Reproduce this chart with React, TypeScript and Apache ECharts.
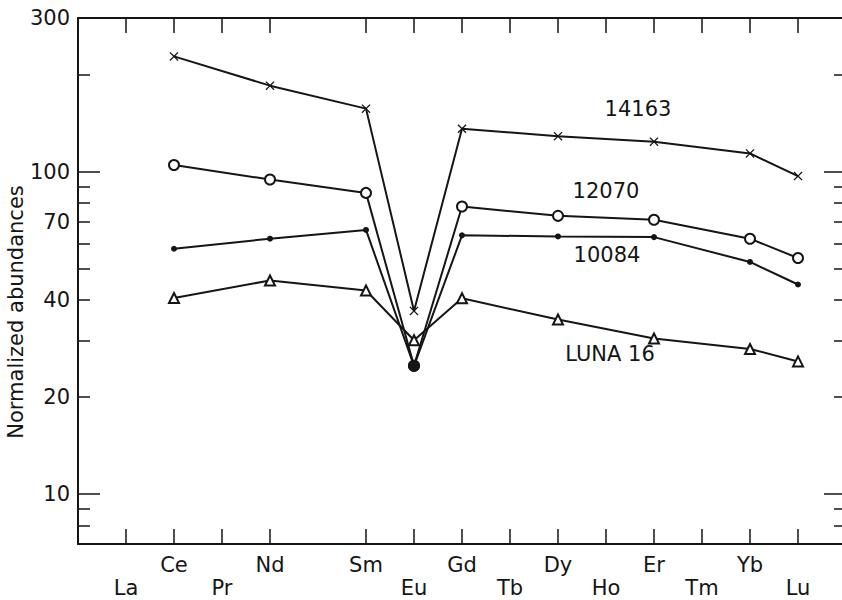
import React, { useEffect, useRef } from 'react';
import * as echarts from 'echarts';

// Rare earth elements in atomic order (Pm keeps its slot but has no tick or label)
const elements = ['La', 'Ce', 'Pr', 'Nd', 'Pm', 'Sm', 'Eu', 'Gd', 'Tb', 'Dy', 'Ho', 'Er', 'Tm', 'Yb', 'Lu'];
const upperLabels = ['Ce', 'Nd', 'Sm', 'Gd', 'Dy', 'Er', 'Yb'];
const lowerLabels = ['La', 'Pr', 'Eu', 'Tb', 'Ho', 'Tm', 'Lu'];
const measured = ['Ce', 'Nd', 'Sm', 'Eu', 'Gd', 'Dy', 'Er', 'Yb', 'Lu'];

const s14163 = [228, 185, 157, 37, 136, 129, 124, 114, 97];
const s12070 = [105, 94.6, 86, 25, 78, 73, 71, 62, 54];
const s10084 = [57.7, 62, 66, 25, 63.5, 63, 62.7, 52.5, 44.7];
const luna16 = [40.6, 46, 42.8, 30, 40.5, 34.8, 30.4, 28.2, 25.8];

const yLabelValues = [10, 20, 40, 70, 100, 300];
const yMajorTicks = [10, 100];
const yMinorTicks = [8, 9, 20, 30, 40, 50, 60, 70, 80, 90, 200];
const Y_MIN = 7;
const Y_MAX = 300;
const X_MIN = -1;
const X_MAX = 15;

const FONT = 'DejaVu Sans';
const INK = '#151515';
const GRID_LEFT = 78;
const GRID_RIGHT = -4;
const GRID_TOP = 18;
const CHART_W = 842;

const idx = (el: string) => elements.indexOf(el);
const tickIdx = elements.filter((e) => e !== 'Pm').map(idx);

const CROSS = 'path://M0,1L1,0L5,4L9,0L10,1L6,5L10,9L9,10L5,6L1,10L0,9L4,5Z';

export default function App() {
  const ref = useRef<HTMLDivElement>(null);
  useEffect(() => {
    document.body.style.margin = '0';
    const chart = echarts.init(ref.current!, null, { renderer: 'svg' });
    const xBase = { type: 'value', min: X_MIN, max: X_MAX, splitLine: { show: false } };
    const yBase = { type: 'log', logBase: 10, min: Y_MIN, max: Y_MAX, splitLine: { show: false } };
    const mk = (vals: number[]) => measured.map((el, i) => [idx(el), vals[i]]);
    const lineStyle = { color: INK, width: 2 };
    const axLine = (show: boolean) => ({ show, onZero: false, lineStyle: { color: INK, width: 2 } });
    const tickStyle = { color: INK, width: 1.5 };
    const xLabel = (v: number) => {
      const name = elements[Math.round(v)];
      return lowerLabels.includes(name) ? '\n' + name : name;
    };
    const textStyle = (text: string) => ({
      text, fontSize: 21, fontFamily: FONT, fill: INK, align: 'center', verticalAlign: 'middle',
    });
    // decorative tick marks hanging from the top frame (layout only, not data)
    const plotW = CHART_W - GRID_LEFT - GRID_RIGHT;
    const topTicks = tickIdx.map((i) => {
      const x = GRID_LEFT + ((i - X_MIN) / (X_MAX - X_MIN)) * plotW;
      return {
        type: 'line', z: 100, silent: true,
        shape: { x1: x, y1: GRID_TOP, x2: x, y2: GRID_TOP + 15 },
        style: { stroke: INK, lineWidth: 1.5 },
      };
    });
    chart.setOption({
      animation: false,
      backgroundColor: '#fff',
      grid: { left: GRID_LEFT, right: GRID_RIGHT, top: GRID_TOP, bottom: 56, containLabel: false, outerBoundsMode: 'none' },
      xAxis: [
        {
          ...xBase,
          position: 'bottom',
          axisLine: axLine(true),
          axisTick: { show: true, inside: true, length: 15, customValues: tickIdx, lineStyle: tickStyle },
          axisLabel: {
            customValues: upperLabels.concat(lowerLabels).map(idx),
            formatter: xLabel,
            margin: 9, fontSize: 21, lineHeight: 23, fontFamily: FONT, color: INK,
            verticalAlign: 'top',
          },
        },
        {
          ...xBase,
          position: 'top',
          axisLine: axLine(true),
          axisTick: { show: false },
          axisLabel: { show: false },
        },
      ],
      yAxis: [
        {
          ...yBase,
          position: 'left',
          axisLine: axLine(true),
          axisTick: { show: true, inside: true, length: 22, customValues: yMajorTicks, lineStyle: tickStyle },
          axisLabel: {
            customValues: yLabelValues,
            formatter: (v: number) => String(Math.round(v)),
            margin: 8, fontSize: 21, fontFamily: FONT, color: INK,
          },
        },
        {
          ...yBase,
          position: 'left',
          axisLine: axLine(false),
          axisTick: { show: true, inside: true, length: 12, customValues: yMinorTicks, lineStyle: tickStyle },
          axisLabel: { show: false },
        },
        {
          ...yBase,
          position: 'right',
          axisLine: axLine(true),
          axisTick: { show: true, inside: true, length: 22, customValues: yMajorTicks, lineStyle: tickStyle },
          axisLabel: { show: false },
        },
        {
          ...yBase,
          position: 'right',
          axisLine: axLine(false),
          axisTick: { show: true, inside: true, length: 12, customValues: yMinorTicks, lineStyle: tickStyle },
          axisLabel: { show: false },
        },
      ],
      series: [
        {
          name: '14163', type: 'line', data: mk(s14163),
          symbol: CROSS, symbolSize: 9, lineStyle, itemStyle: { color: INK },
        },
        {
          name: '12070', type: 'line', data: mk(s12070),
          symbol: 'circle', symbolSize: 10, lineStyle,
          itemStyle: { color: '#fff', borderColor: INK, borderWidth: 2 },
        },
        {
          name: '10084', type: 'line',
          data: mk(s10084).map((p) => (p[0] === idx('Eu') ? { value: p, symbolSize: 12 } : p)),
          symbol: 'circle', symbolSize: 6, lineStyle, itemStyle: { color: INK },
        },
        {
          name: 'LUNA 16', type: 'line', data: mk(luna16),
          symbol: 'triangle', symbolSize: 10, lineStyle,
          itemStyle: { color: '#fff', borderColor: INK, borderWidth: 2 },
        },
      ],
      graphic: [
        { type: 'text', x: 16, y: 312, rotation: Math.PI / 2, style: textStyle('Normalized abundances') },
        { type: 'text', x: 638, y: 109, style: textStyle('14163') },
        { type: 'text', x: 606, y: 191, style: textStyle('12070') },
        { type: 'text', x: 607, y: 255, style: textStyle('10084') },
        { type: 'text', x: 610, y: 354, style: textStyle('LUNA 16') },
        ...topTicks,
      ],
    });
    return () => chart.dispose();
  }, []);
  return <div ref={ref} style={{ position: 'fixed', left: 0, top: 0, width: 842, height: 600 }} />;
}
